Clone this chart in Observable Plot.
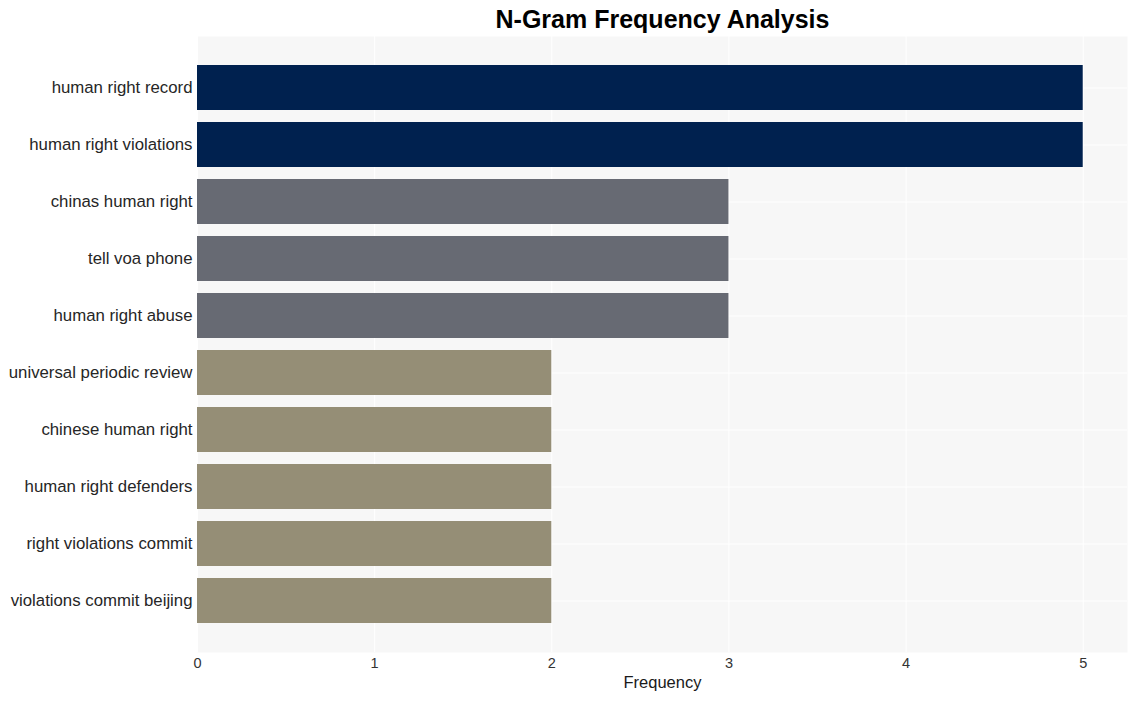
<!DOCTYPE html>
<html>
<head>
<meta charset="utf-8">
<script src="https://cdn.jsdelivr.net/npm/d3@7"></script>
<script src="https://cdn.jsdelivr.net/npm/@observablehq/plot@0.6"></script>
<style>
  body { margin: 0; background: #ffffff; }
  #chart svg { display: block; }
</style>
</head>
<body>
<div id="chart"></div>
<script>
const ngrams = [
  "human right record",
  "human right violations",
  "chinas human right",
  "tell voa phone",
  "human right abuse",
  "universal periodic review",
  "chinese human right",
  "human right defenders",
  "right violations commit",
  "violations commit beijing"
];
const frequencies = [5, 5, 3, 3, 3, 2, 2, 2, 2, 2];
const xTicks = [0, 1, 2, 3, 4, 5];
const colorForFreq = { 5: "#00214f", 3: "#676a73", 2: "#958e76" };
const titleText = "N-Gram Frequency Analysis";
const xLabel = "Frequency";

const data = ngrams.map((n, i) => ({ ngram: n, freq: frequencies[i] }));

const font = "'Liberation Sans', Arial, Helvetica, sans-serif";

const chart = Plot.plot({
  width: 1137,
  height: 701,
  marginLeft: 197,
  marginRight: 10,
  marginTop: 36,
  marginBottom: 49,
  style: { fontFamily: font, background: "#ffffff", overflow: "visible" },
  x: { domain: [0, 5.25], ticks: xTicks, tickFormat: "d" },
  y: { domain: ngrams, type: "band", paddingInner: 0.21, paddingOuter: 0.49 },
  marks: [
    Plot.frame({ fill: "#f7f7f7", stroke: null }),
    Plot.gridX(xTicks, { stroke: "#ffffff", strokeOpacity: 1, strokeWidth: 1 }),
    Plot.gridY({ stroke: "#ffffff", strokeOpacity: 1, strokeWidth: 1 }),
    Plot.barX(data, { x: "freq", y: "ngram", fill: d => colorForFreq[d.freq] }),
    Plot.axisY({ tickSize: 0, tickPadding: 5, fontSize: 16.8, fill: "#262626", label: null }),
    Plot.axisX(xTicks, { tickSize: 0, tickPadding: 5, fontSize: 14.5, fill: "#333333", label: null, tickFormat: "d" }),
    Plot.text([xLabel], { frameAnchor: "bottom", dy: 35, fontSize: 16.5, fill: "#1a1a1a" }),
    Plot.text([titleText], { frameAnchor: "top", dy: -9, fontSize: 25, fontWeight: "bold", fill: "#000000", lineAnchor: "bottom" })
  ]
});
document.getElementById("chart").appendChild(chart);
</script>
</body>
</html>
